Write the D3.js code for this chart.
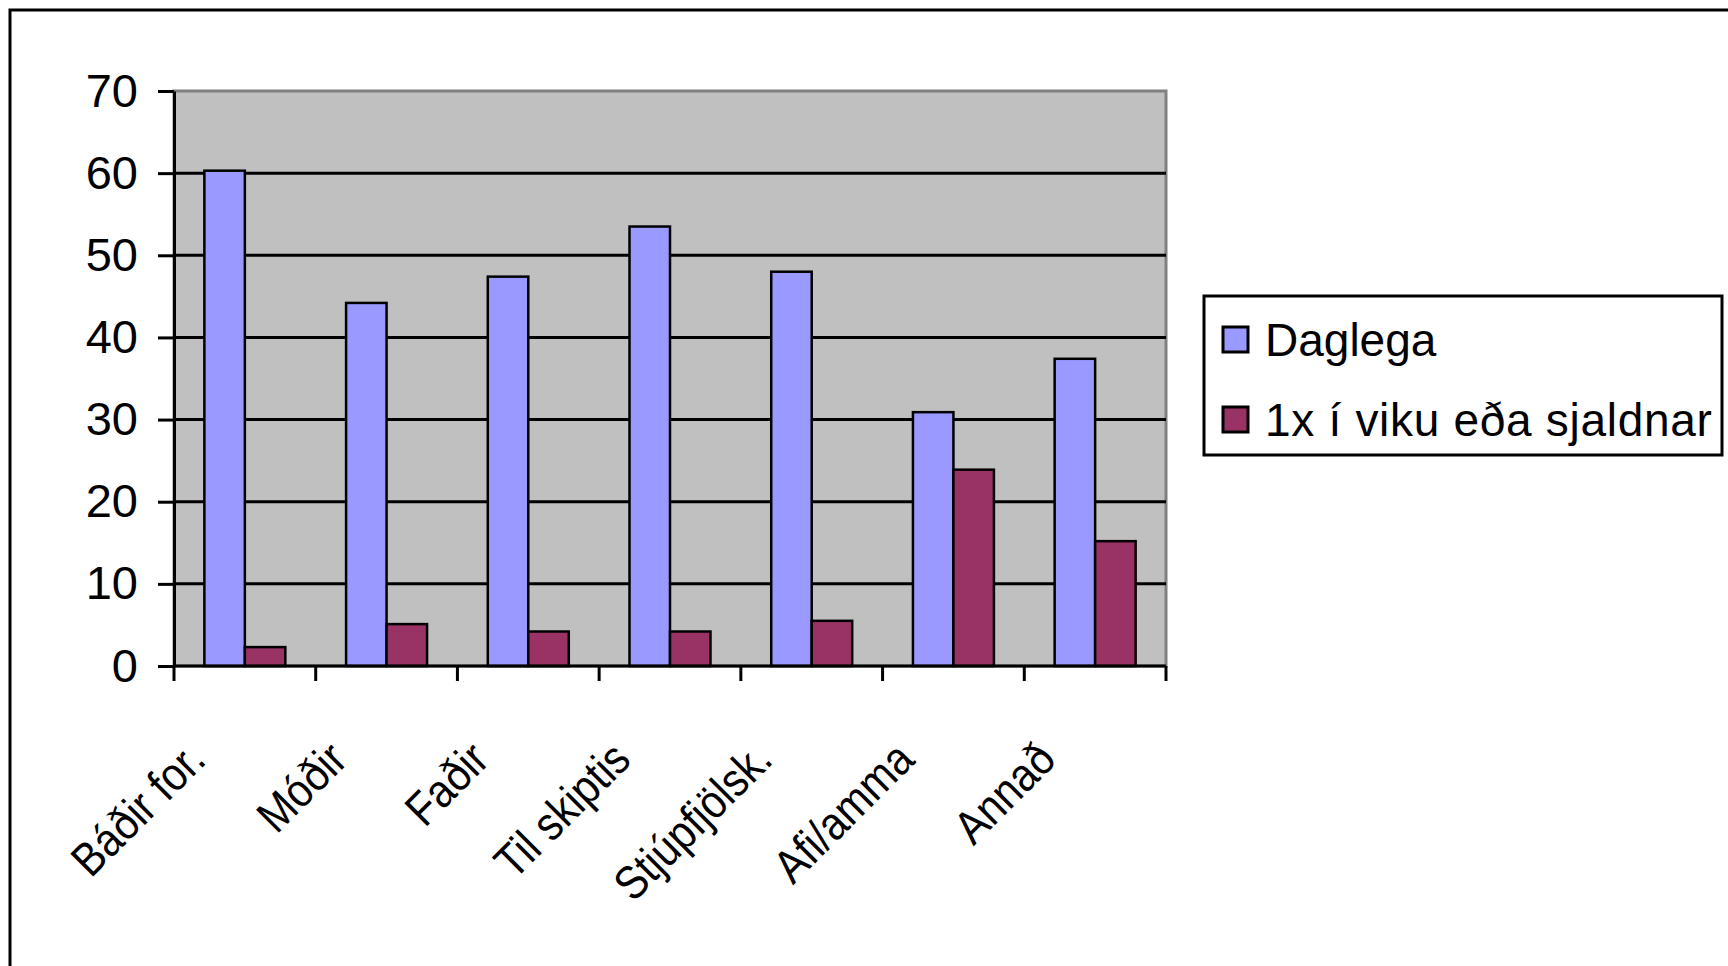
<!DOCTYPE html>
<html>
<head>
<meta charset="utf-8">
<script src="https://cdn.jsdelivr.net/npm/d3@7"></script>
<style>
  body { margin: 0; background: #fff; }
  svg { display: block; font-family: "Liberation Sans", Arial, sans-serif; }
</style>
</head>
<body>
<svg width="1728" height="966"></svg>
<script>
// data
var categories = ["Báðir for.", "Móðir", "Faðir", "Til skiptis", "Stjúpfjölsk.", "Afi/amma", "Annað"];
var seriesNames = ["Daglega", "1x í viku eða sjaldnar"];
var daglega = [60.3, 44.2, 47.4, 53.5, 48.0, 30.9, 37.4];
var sjaldnar = [2.3, 5.1, 4.2, 4.2, 5.5, 23.9, 15.2];
var yTicks = [0, 10, 20, 30, 40, 50, 60, 70];
var colors = ["#9999FF", "#993366"];

var svg = d3.select("svg"),
    plotLeft = 174, plotRight = 1166, plotTop = 91, plotBottom = 666;

var rows = categories.map(function(c, i) {
  return { cat: c, values: [daglega[i], sjaldnar[i]] };
});

var x0 = d3.scaleBand().domain(categories).range([plotLeft, plotRight]).padding(0);
var x1 = d3.scaleBand().domain([0, 1]).range([0, x0.bandwidth()])
    .paddingInner(0).paddingOuter(0.75);
var y = d3.scaleLinear().domain([0, 70]).range([plotBottom, plotTop]);

// outer chart border (runs off the right and bottom edge)
svg.append("rect")
    .attr("x", 10).attr("y", 10).attr("width", 1800).attr("height", 1000)
    .attr("fill", "none").attr("stroke", "#000").attr("stroke-width", 3);

// plot area
svg.append("rect")
    .attr("x", plotLeft).attr("y", plotTop).attr("width", plotRight - plotLeft).attr("height", plotBottom - plotTop)
    .attr("fill", "#C0C0C0").attr("stroke", "#808080").attr("stroke-width", 3);

// gridlines
svg.append("g").selectAll("line")
    .data(yTicks.filter(function(d) { return d > 0 && d < 70; }))
    .enter().append("line")
    .attr("x1", plotLeft).attr("x2", plotRight)
    .attr("y1", function(d) { return y(d); }).attr("y2", function(d) { return y(d); })
    .attr("stroke", "#000").attr("stroke-width", 3);

// bars
var groups = svg.append("g").selectAll("g")
    .data(rows)
    .enter().append("g")
    .attr("transform", function(d) { return "translate(" + x0(d.cat) + ",0)"; });

groups.selectAll("rect")
    .data(function(d) { return d.values.map(function(v, i) { return { i: i, v: v }; }); })
    .enter().append("rect")
    .attr("x", function(d) { return x1(d.i); })
    .attr("width", x1.bandwidth())
    .attr("y", function(d) { return y(d.v); })
    .attr("height", function(d) { return plotBottom - y(d.v); })
    .attr("fill", function(d) { return colors[d.i]; })
    .attr("stroke", "#000").attr("stroke-width", 2.5);

// y axis
var yAxis = svg.append("g")
    .attr("transform", "translate(" + plotLeft + ",0)")
    .call(d3.axisLeft(y).tickValues(yTicks).tickSize(16).tickPadding(20).tickSizeOuter(0));
yAxis.select(".domain").attr("stroke-width", 3);
yAxis.selectAll(".tick line").attr("stroke-width", 3);
yAxis.selectAll("text").attr("font-size", 47).attr("fill", "#000")
    .attr("font-family", "Liberation Sans, Arial, sans-serif");

// x axis: line plus ticks on the category boundaries
svg.append("line")
    .attr("x1", plotLeft).attr("x2", plotRight).attr("y1", plotBottom).attr("y2", plotBottom)
    .attr("stroke", "#000").attr("stroke-width", 3);
var bounds = categories.map(function(c) { return x0(c); }).concat([plotRight]);
svg.append("g").selectAll("line")
    .data(bounds)
    .enter().append("line")
    .attr("x1", function(d) { return d; }).attr("x2", function(d) { return d; })
    .attr("y1", plotBottom).attr("y2", plotBottom + 15)
    .attr("stroke", "#000").attr("stroke-width", 3);

// rotated category labels (a bit condensed, like the original)
svg.append("g").selectAll("text")
    .data(categories)
    .enter().append("text")
    .attr("transform", function(d) {
      var cx = x0(d) + x0.bandwidth() / 2 - 37;
      return "translate(" + cx + "," + 762 + ") rotate(-45) scale(0.88,1)";
    })
    .attr("text-anchor", "end")
    .attr("font-size", 47)
    .text(function(d) { return d; });

// legend
var legend = svg.append("g");
legend.append("rect")
    .attr("x", 1204).attr("y", 296).attr("width", 518).attr("height", 159)
    .attr("fill", "#fff").attr("stroke", "#000").attr("stroke-width", 3);
var items = legend.selectAll("g.item")
    .data(seriesNames)
    .enter().append("g")
    .attr("class", "item")
    .attr("transform", function(d, i) { return "translate(1223," + (327 + i * 80) + ")"; });
items.append("rect")
    .attr("width", 25).attr("height", 25)
    .attr("fill", function(d, i) { return colors[i]; })
    .attr("stroke", "#000").attr("stroke-width", 3);
items.append("text")
    .attr("x", 42).attr("y", 29)
    .attr("font-size", 46)
    .attr("letter-spacing", function(d, i) { return i === 1 ? 0.7 : 0; })
    .text(function(d) { return d; });
</script>
</body>
</html>
